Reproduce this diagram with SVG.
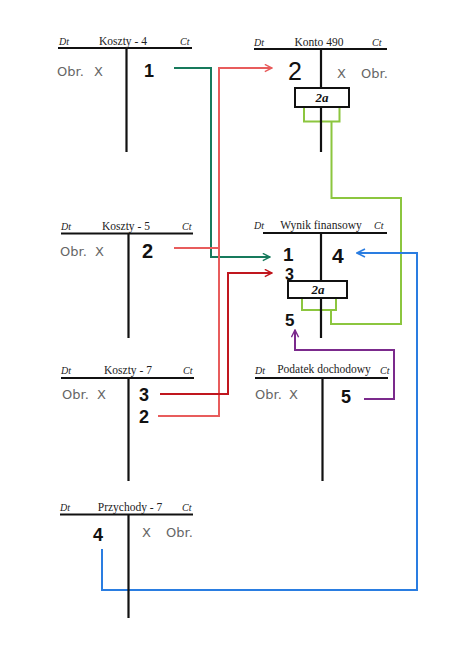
<svg xmlns="http://www.w3.org/2000/svg" width="474" height="669" viewBox="0 0 474 669">
<style>
.ln{stroke:#111;stroke-width:2.2;fill:none}
.hd{font-family:"Liberation Serif",serif;font-size:11.5px;fill:#222;text-anchor:middle}
.dc{font-family:"Liberation Serif",serif;font-style:italic;font-size:10px;fill:#222}
.ob{font-family:"DejaVu Sans",sans-serif;font-size:13px;fill:#666;font-weight:normal}
.nm{font-family:"Liberation Sans",sans-serif;font-size:18px;fill:#111;font-weight:bold}
.bx{fill:#fff;stroke:#111;stroke-width:2}
.bt{font-family:"Liberation Serif",serif;font-style:italic;font-weight:bold;font-size:13px;fill:#111;text-anchor:middle}
.c{fill:none;stroke-width:2}
</style>
<defs>
<marker id="ag" viewBox="0 0 10 10" refX="9" refY="5" markerWidth="9" markerHeight="9" markerUnits="userSpaceOnUse" orient="auto"><path d="M1,1 L9,5 L1,9" fill="none" stroke="#177a5c" stroke-width="1.6"/></marker>
<marker id="ar" viewBox="0 0 10 10" refX="9" refY="5" markerWidth="9" markerHeight="9" markerUnits="userSpaceOnUse" orient="auto"><path d="M1,1 L9,5 L1,9" fill="none" stroke="#e85c5c" stroke-width="1.6"/></marker>
<marker id="ad" viewBox="0 0 10 10" refX="9" refY="5" markerWidth="9" markerHeight="9" markerUnits="userSpaceOnUse" orient="auto"><path d="M1,1 L9,5 L1,9" fill="none" stroke="#c0161e" stroke-width="1.6"/></marker>
<marker id="ab" viewBox="0 0 10 10" refX="9" refY="5" markerWidth="10" markerHeight="10" markerUnits="userSpaceOnUse" orient="auto"><path d="M1,1 L9,5 L1,9" fill="none" stroke="#2a7de1" stroke-width="1.6"/></marker>
<marker id="ap" viewBox="0 0 10 10" refX="9" refY="5" markerWidth="9" markerHeight="9" markerUnits="userSpaceOnUse" orient="auto"><path d="M1,1 L9,5 L1,9" fill="none" stroke="#7b2a8c" stroke-width="1.6"/></marker>
</defs>
<rect width="474" height="669" fill="#fff"/>

<g id="connectors">
<path class="c" stroke="#177a5c" d="M174,68 H211 V257 H270" marker-end="url(#ag)"/>
<path class="c" stroke="#e85c5c" d="M158,416 H219 V68 H272" marker-end="url(#ar)"/>
<path class="c" stroke="#e85c5c" d="M174,248 H219"/>
<path class="c" stroke="#c0161e" d="M160,394 H228 V273 H272" marker-end="url(#ad)"/>
<path class="c" stroke="#8cc63f" d="M304,107 V121.5 H339.5 V107 M331.5,121.5 V198 H401 V324 H331 V310 M302,298 V310 H336 V298"/>
<path class="c" stroke="#2a7de1" d="M102,549 V590 H417 V253 H357" marker-end="url(#ab)"/>
<path class="c" stroke="#7b2a8c" d="M364,399 H394 V350 H295 V330" marker-end="url(#ap)"/>
</g>

<g id="koszty4">
<path class="ln" d="M58,48 H192 M126.5,48 V152"/>
<text class="dc" x="59" y="45">Dt</text><text class="hd" x="123" y="45">Koszty - 4</text><text class="dc" x="180" y="45">Ct</text>
<text class="ob" x="57" y="76">Obr.</text><text class="ob" x="94" y="76">X</text><text class="nm" x="144" y="77">1</text>
</g>

<g id="konto490">
<path class="ln" d="M254,49 H387 M321,49 V152"/>
<text class="dc" x="254" y="46">Dt</text><text class="hd" x="319" y="46">Konto 490</text><text class="dc" x="372" y="46">Ct</text>
<text class="nm" x="288" y="80" style="font-size:25px;font-weight:normal">2</text><text class="ob" x="337" y="78">X</text><text class="ob" x="361" y="78">Obr.</text>
<rect class="bx" x="295" y="88" width="54" height="19"/><text class="bt" x="322" y="102">2a</text>
</g>

<g id="koszty5">
<path class="ln" d="M61,233.5 H193 M128.5,233.5 V338"/>
<text class="dc" x="61" y="230">Dt</text><text class="hd" x="126" y="230">Koszty - 5</text><text class="dc" x="182" y="230">Ct</text>
<text class="ob" x="60" y="256">Obr.</text><text class="ob" x="95" y="256">X</text><text class="nm" x="142" y="258" style="font-size:20px">2</text>
</g>

<g id="wynik">
<path class="ln" d="M263,233 H387 M321,233 V338"/>
<text class="dc" x="254" y="229">Dt</text><text class="hd" x="321" y="229">Wynik finansowy</text><text class="dc" x="374" y="229">Ct</text>
<text class="nm" x="283" y="261" style="font-size:19px">1</text><text class="nm" x="332" y="263" style="font-size:21px">4</text>
<text class="nm" x="285" y="280" style="font-size:16px">3</text>
<rect class="bx" x="288" y="281" width="59" height="17"/><text class="bt" x="318" y="294">2a</text>
<text class="nm" x="285" y="326" style="font-size:17px">5</text>
</g>

<g id="koszty7">
<path class="ln" d="M61,378 H194 M128.5,378 V481"/>
<text class="dc" x="61" y="374">Dt</text><text class="hd" x="128" y="374">Koszty - 7</text><text class="dc" x="183" y="374">Ct</text>
<text class="ob" x="62" y="399">Obr.</text><text class="ob" x="97" y="399">X</text>
<text class="nm" x="139" y="401">3</text><text class="nm" x="139" y="423">2</text>
</g>

<g id="podatek">
<path class="ln" d="M255,378 H388 M322.5,378 V481"/>
<text class="dc" x="255" y="374">Dt</text><text class="hd" x="324" y="373">Podatek dochodowy</text><text class="dc" x="380" y="374">Ct</text>
<text class="ob" x="255" y="399">Obr.</text><text class="ob" x="289" y="399">X</text><text class="nm" x="341" y="403">5</text>
</g>

<g id="przychody7">
<path class="ln" d="M60,514.5 H193 M128.5,514.5 V618"/>
<text class="dc" x="60" y="511">Dt</text><text class="hd" x="130" y="511">Przychody - 7</text><text class="dc" x="182" y="511">Ct</text>
<text class="nm" x="93" y="541">4</text><text class="ob" x="142" y="537">X</text><text class="ob" x="166" y="537">Obr.</text>
</g>
</svg>
